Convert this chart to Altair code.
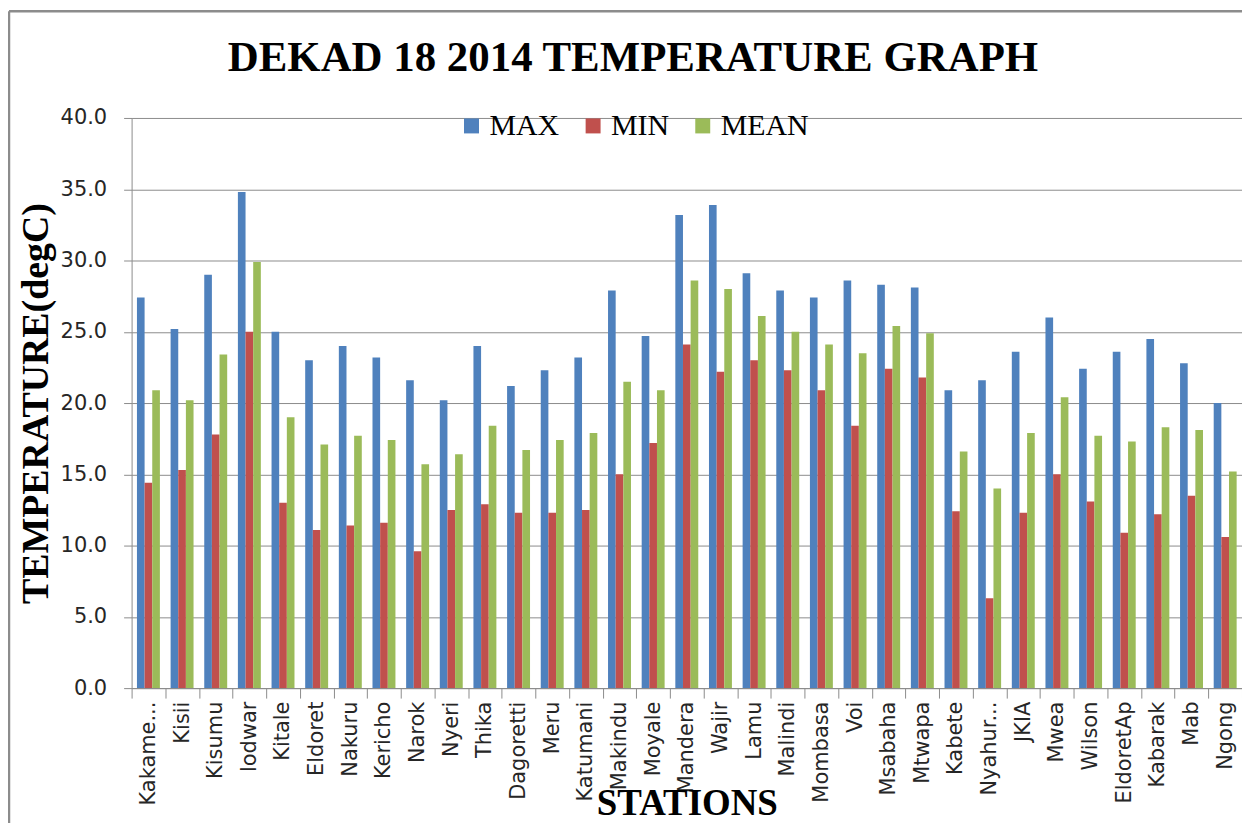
import altair as alt
import pandas as pd

title_text = ["DEKAD 18 2014 TEMPERATURE GRAPH"]
stations = ["Kakame...", "Kisii", "Kisumu", "lodwar", "Kitale", "Eldoret", "Nakuru",
            "Kericho", "Narok", "Nyeri", "Thika", "Dagoretti", "Meru", "Katumani",
            "Makindu", "Moyale", "Mandera", "Wajir", "Lamu", "Malindi", "Mombasa",
            "Voi", "Msabaha", "Mtwapa", "Kabete", "Nyahur...", "JKIA", "Mwea",
            "Wilson", "EldoretAp", "Kabarak", "Mab", "Ngong"]
max_t = [27.4, 25.2, 29.0, 34.8, 25.0, 23.0, 24.0, 23.2, 21.6, 20.2, 24.0, 21.2,
         22.3, 23.2, 27.9, 24.7, 33.2, 33.9, 29.1, 27.9, 27.4, 28.6, 28.3, 28.1,
         20.9, 21.6, 23.6, 26.0, 22.4, 23.6, 24.5, 22.8, 20.0]
min_t = [14.4, 15.3, 17.8, 25.0, 13.0, 11.1, 11.4, 11.6, 9.6, 12.5, 12.9, 12.3,
         12.3, 12.5, 15.0, 17.2, 24.1, 22.2, 23.0, 22.3, 20.9, 18.4, 22.4, 21.8,
         12.4, 6.3, 12.3, 15.0, 13.1, 10.9, 12.2, 13.5, 10.6]
mean_t = [20.9, 20.2, 23.4, 29.9, 19.0, 17.1, 17.7, 17.4, 15.7, 16.4, 18.4, 16.7,
          17.4, 17.9, 21.5, 20.9, 28.6, 28.0, 26.1, 25.0, 24.1, 23.5, 25.4, 24.9,
          16.6, 14.0, 17.9, 20.4, 17.7, 17.3, 18.3, 18.1, 15.2]
series = ["MAX", "MIN", "MEAN"]
colors = ["#4F81BD", "#C0504D", "#9BBB59"]
y_ticks = [0, 5, 10, 15, 20, 25, 30, 35, 40]

rows = []
for i, s in enumerate(stations):
    for name, vals in zip(series, [max_t, min_t, mean_t]):
        rows.append({"station": s, "series": name, "value": vals[i]})
df = pd.DataFrame(rows)

W, H = 1114, 572
GRAY = "#8c8c8c"

bars = alt.Chart(df).mark_bar().encode(
    x=alt.X("station:N", sort=stations,
            scale=alt.Scale(paddingInner=0, paddingOuter=0),
            axis=alt.Axis(title="STATIONS", tickBand="extent", labelAngle=270,
                          labelAlign="right", labelBaseline="middle",
                          labelFont="DejaVu Sans", labelFontSize=21,
                          labelColor="#262626", labelPadding=3, labelLimit=0,
                          tickSize=10, tickColor=GRAY, domainColor=GRAY,
                          titleFont="Liberation Serif", titleFontWeight="bold",
                          titleFontSize=37, titleColor="black",
                          titleX=557, titleY=127, titleAlign="center",
                          titleBaseline="alphabetic")),
    xOffset=alt.XOffset("series:N", sort=series,
                        scale=alt.Scale(paddingInner=0, paddingOuter=0.7)),
    y=alt.Y("value:Q", scale=alt.Scale(domain=[0, 40], nice=False),
            axis=alt.Axis(title="TEMPERATURE(degC)", values=y_ticks, format=".1f",
                          labelFont="DejaVu Sans", labelFontSize=21,
                          labelColor="#262626", labelPadding=17, tickSize=8,
                          tickColor=GRAY, domainColor=GRAY, grid=True,
                          gridColor=GRAY, gridWidth=1,
                          titleFont="Liberation Serif", titleFontWeight="bold",
                          titleFontSize=38, titleColor="black", titleAngle=270,
                          titleX=-95, titleY=286, titleAlign="center",
                          titleBaseline="middle")),
    color=alt.Color("series:N", sort=series,
                    scale=alt.Scale(domain=series, range=colors),
                    legend=alt.Legend(orient="none", legendX=326, legendY=-7,
                                      direction="horizontal", title=None,
                                      symbolType="square", symbolSize=225,
                                      symbolStrokeWidth=0, symbolOpacity=1,
                                      labelFont="Liberation Serif", labelFontSize=30,
                                      labelColor="black", labelOffset=3,
                                      columnPadding=18, padding=0)),
)

title_df = pd.DataFrame({"t": title_text})
title = alt.Chart(title_df).mark_text(
    font="Liberation Serif", fontWeight="bold", fontSize=43,
    align="center", baseline="alphabetic", color="black"
).encode(x=alt.value(503), y=alt.value(-47), text="t:N")

frame_df = pd.DataFrame({"k": [0]})
frame_top = alt.Chart(frame_df).mark_rule(color=GRAY, strokeWidth=2.5).encode(
    x=alt.value(-123), x2=alt.value(W + 10), y=alt.value(-107))
frame_left = alt.Chart(frame_df).mark_rule(color=GRAY, strokeWidth=2.5).encode(
    x=alt.value(-123), y=alt.value(-107), y2=alt.value(H + 150))

chart = alt.layer(bars, title, frame_top, frame_left).properties(
    width=W, height=H,
    autosize=alt.AutoSizeParams(type="none"),
    padding={"left": 124, "top": 109, "right": 0, "bottom": 134},
    background="white",
).configure_view(stroke=None)

chart.save("out.html", embed_options={"renderer": "svg", "actions": False})
